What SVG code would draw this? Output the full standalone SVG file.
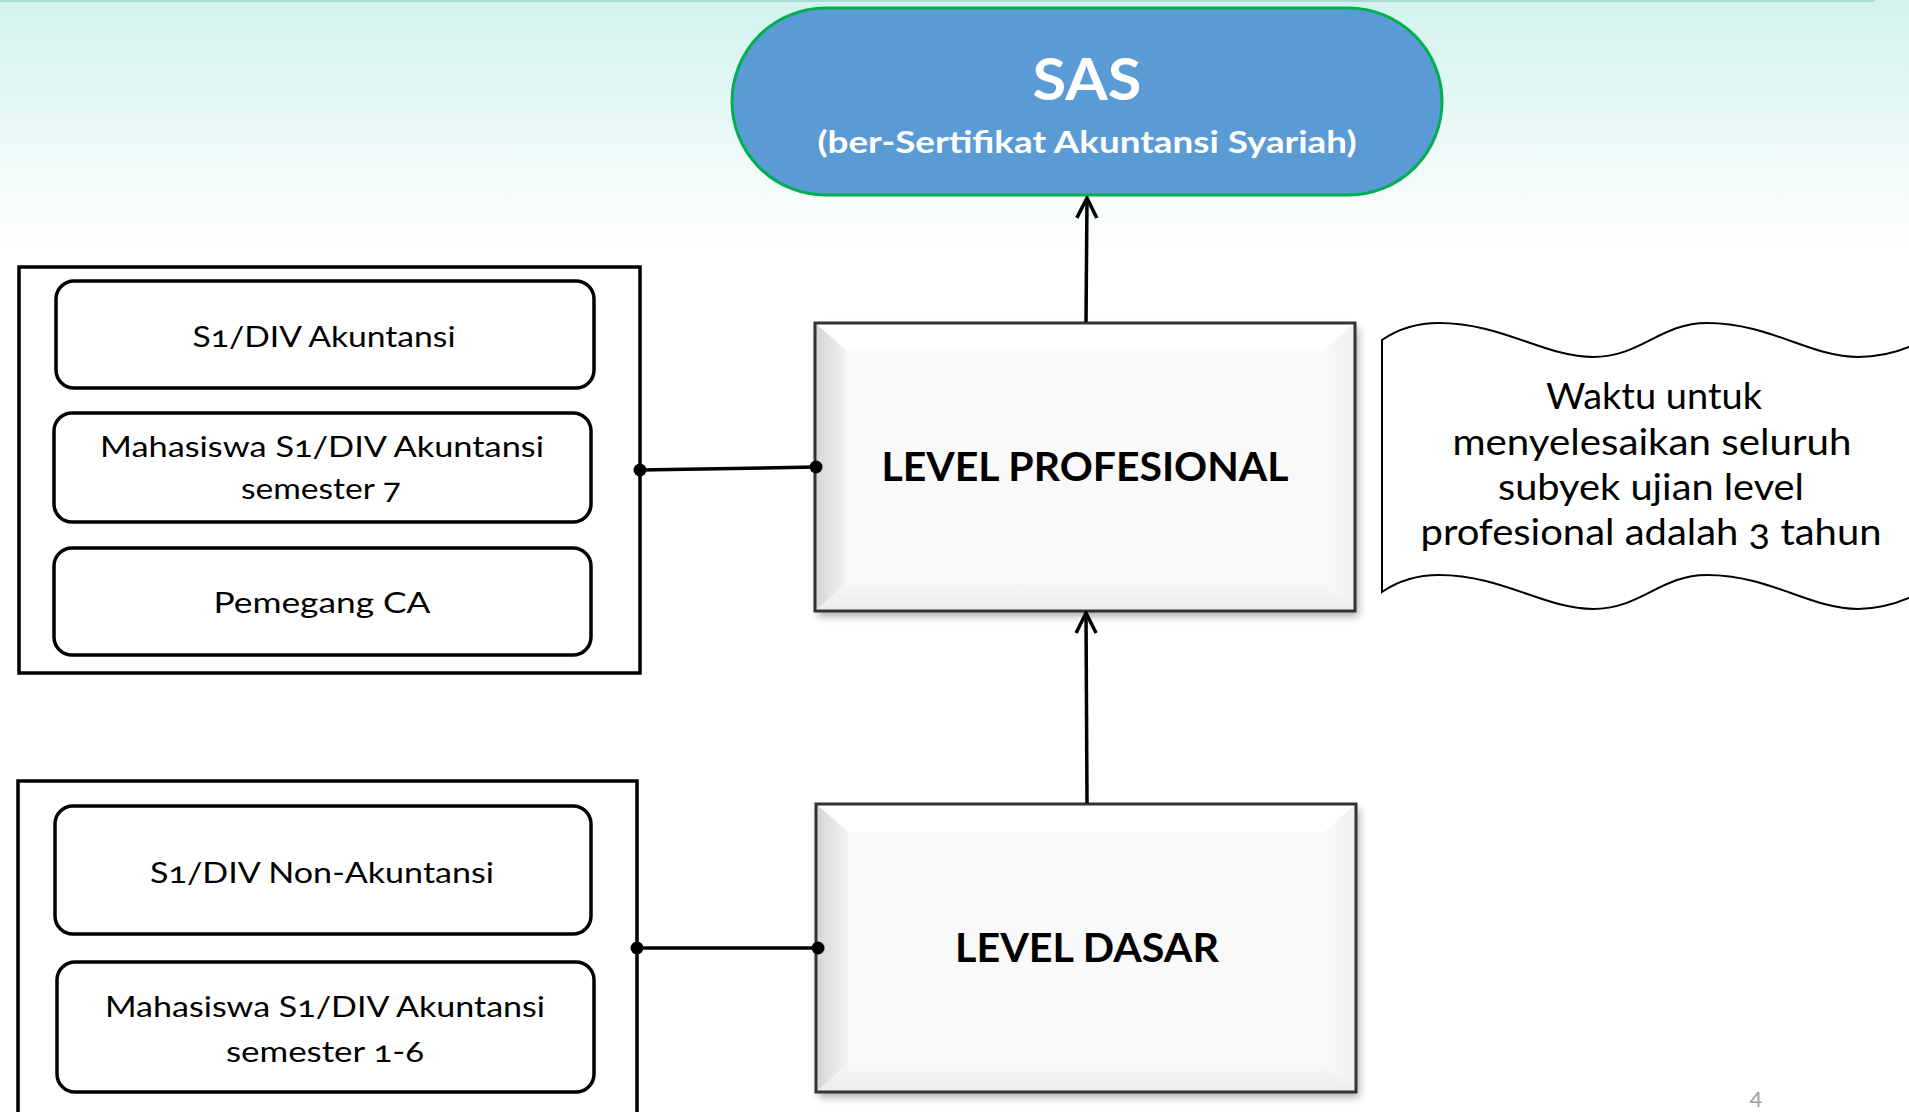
<svg xmlns="http://www.w3.org/2000/svg" xmlns:xlink="http://www.w3.org/1999/xlink" width="1909" height="1112" viewBox="0 0 1909 1112">
<defs>
<style>
.t{font-family:Lato,"Open Sans","Liberation Sans",sans-serif;fill:#000;text-anchor:middle;font-variant-numeric:oldstyle-nums}
.lb{font-size:29px}
.wv{font-size:36px}
.lv{font-size:40px;font-weight:700}
.box{fill:#fff;stroke:#000;stroke-width:3.5}
.rbox{fill:#fff;stroke:#000;stroke-width:3.5}
.con{stroke:#000;stroke-width:3.5;fill:none}
.dot{fill:#000}
</style>
<linearGradient id="bg" x1="0" y1="0" x2="0" y2="1">
<stop offset="0" stop-color="#D2F2EE"/>
<stop offset="1" stop-color="#FFFFFF"/>
</linearGradient>
<linearGradient id="gl" x1="0" y1="0" x2="1" y2="0">
<stop offset="0" stop-color="#D4D4D4"/>
<stop offset="1" stop-color="#F4F4F4"/>
</linearGradient>
<linearGradient id="gr" x1="0" y1="0" x2="1" y2="0">
<stop offset="0" stop-color="#FAFAFA"/>
<stop offset="1" stop-color="#EFEFEF"/>
</linearGradient>
<linearGradient id="gb" x1="0" y1="0" x2="0" y2="1">
<stop offset="0" stop-color="#F7F7F7"/>
<stop offset="1" stop-color="#ECECEC"/>
</linearGradient>
<filter id="sh" x="-10%" y="-10%" width="125%" height="130%">
<feDropShadow dx="3" dy="5" stdDeviation="4" flood-color="#000" flood-opacity="0.35"/>
</filter>
<g id="bevelBox">
<rect x="0" y="0" width="540" height="288" fill="#F9F9F9" filter="url(#sh)"/>
<polygon points="0,0 540,0 508,28 32,28" fill="#FFFFFF"/>
<polygon points="0,0 32,28 32,260 0,288" fill="url(#gl)"/>
<polygon points="540,0 540,288 508,260 508,28" fill="url(#gr)"/>
<polygon points="0,288 32,260 508,260 540,288" fill="url(#gb)"/>
<rect x="0" y="0" width="540" height="288" fill="none" stroke="#333" stroke-width="3"/>
</g>
<marker id="arr" viewBox="-24 -13 26 26" refX="0" refY="0" markerWidth="26" markerHeight="26" markerUnits="userSpaceOnUse" orient="auto">
<path d="M-20,-10 L0,0 L-20,10" fill="none" stroke="#000" stroke-width="3.5"/>
</marker>
</defs>

<rect x="0" y="0" width="1909" height="250" fill="url(#bg)"/>
<rect x="0" y="250" width="1909" height="862" fill="#fff"/>
<rect x="0" y="0" width="1875" height="2" fill="#A8DCD5"/>

<g id="sas">
<rect x="732" y="8" width="710" height="187" rx="93.5" ry="93.5" fill="#5B9BD5" stroke="#00B050" stroke-width="3"/>
<text class="t" x="1087" y="100" style="font-size:58px;font-weight:700;fill:#fff" textLength="109" lengthAdjust="spacingAndGlyphs">SAS</text>
<text class="t" x="1087" y="153" style="font-size:30px;font-weight:700;fill:#fff" textLength="539" lengthAdjust="spacingAndGlyphs">(ber-Sertifikat Akuntansi Syariah)</text>
</g>

<g id="level-profesional">
<use xlink:href="#bevelBox" href="#bevelBox" x="815" y="323"/>
<text class="t lv" x="1085" y="481" textLength="407" lengthAdjust="spacingAndGlyphs">LEVEL PROFESIONAL</text>
</g>

<g id="level-dasar">
<use xlink:href="#bevelBox" href="#bevelBox" x="816" y="804"/>
<text class="t lv" x="1087" y="962" textLength="264" lengthAdjust="spacingAndGlyphs">LEVEL DASAR</text>
</g>

<g id="group-profesional">
<rect class="box" x="19" y="267" width="621" height="406"/>
<g id="s1-akuntansi">
<rect class="rbox" x="56" y="281" width="538" height="107" rx="18"/>
<text class="t lb" x="324" y="347" textLength="263" lengthAdjust="spacingAndGlyphs">S1/DIV Akuntansi</text>
</g>
<g id="mhs-sem7">
<rect class="rbox" x="54" y="413" width="537" height="109" rx="18"/>
<text class="t lb" x="322" y="457" textLength="444" lengthAdjust="spacingAndGlyphs">Mahasiswa S1/DIV Akuntansi</text>
<text class="t lb" x="321" y="499" textLength="160" lengthAdjust="spacingAndGlyphs">semester 7</text>
</g>
<g id="pemegang-ca">
<rect class="rbox" x="54" y="548" width="537" height="107" rx="18"/>
<text class="t lb" x="322" y="613" textLength="217" lengthAdjust="spacingAndGlyphs">Pemegang CA</text>
</g>
</g>

<g id="group-dasar">
<rect class="box" x="18" y="781" width="619" height="360"/>
<g id="s1-non-akuntansi">
<rect class="rbox" x="55" y="806" width="536" height="128" rx="18"/>
<text class="t lb" x="322" y="883" textLength="344" lengthAdjust="spacingAndGlyphs">S1/DIV Non-Akuntansi</text>
</g>
<g id="mhs-sem1-6">
<rect class="rbox" x="57" y="962" width="537" height="130" rx="18"/>
<text class="t lb" x="325" y="1017" textLength="440" lengthAdjust="spacingAndGlyphs">Mahasiswa S1/DIV Akuntansi</text>
<text class="t lb" x="325" y="1062" textLength="198" lengthAdjust="spacingAndGlyphs">semester 1-6</text>
</g>
</g>

<g id="note-wave">
<path d="M1382,340 C1398,329 1417,323 1439,323 C1502,323 1545,357 1593,357 C1641,357 1660,323 1707,323 C1770,323 1810,357 1858,357 C1880,357 1897,352 1909,347 L1930,340 L1930,590 L1909,598 C1897,603 1880,609 1858,609 C1810,609 1770,575 1707,575 C1660,575 1641,609 1593,609 C1545,609 1502,575 1439,575 C1417,575 1398,581 1382,592 Z" fill="#fff" stroke="#000" stroke-width="2"/>
<text class="t wv" x="1654" y="409" textLength="216" lengthAdjust="spacingAndGlyphs">Waktu untuk</text>
<text class="t wv" x="1652" y="455" textLength="399" lengthAdjust="spacingAndGlyphs">menyelesaikan seluruh</text>
<text class="t wv" x="1651" y="500" textLength="306" lengthAdjust="spacingAndGlyphs">subyek ujian level</text>
<text class="t wv" x="1651" y="545" textLength="461" lengthAdjust="spacingAndGlyphs">profesional adalah 3 tahun</text>
</g>

<g id="connectors">
<line class="con" x1="1086" y1="322" x2="1087" y2="198" marker-end="url(#arr)"/>
<line class="con" x1="1087" y1="803" x2="1086" y2="613" marker-end="url(#arr)"/>
<line class="con" x1="640" y1="470" x2="816" y2="467"/>
<circle class="dot" cx="640" cy="470" r="6.5"/>
<circle class="dot" cx="816" cy="467" r="6.5"/>
<line class="con" x1="637" y1="948" x2="818" y2="948"/>
<circle class="dot" cx="637" cy="948" r="6.5"/>
<circle class="dot" cx="818" cy="948" r="6.5"/>
</g>

<text x="1756" y="1107" style="font-family:Lato,'Open Sans','Liberation Sans',sans-serif;font-size:22px;fill:#A0A0A0;text-anchor:middle">4</text>
</svg>
